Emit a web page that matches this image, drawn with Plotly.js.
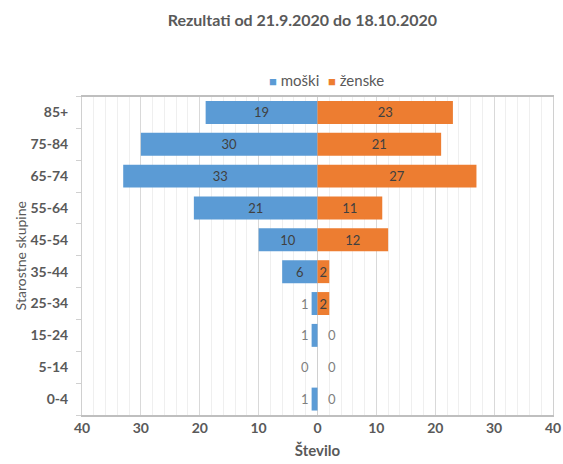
<!DOCTYPE html>
<html>
<head>
<meta charset="utf-8">
<script src="https://cdn.plot.ly/plotly-3.0.1.min.js"></script>
<style>
  html, body { margin: 0; padding: 0; background: #ffffff; }
  #chart { width: 563px; height: 464px; }
</style>
</head>
<body>
<div id="chart"></div>
<script>
// Age groups, bottom to top
const ageGroups = ['0-4', '5-14', '15-24', '25-34', '35-44', '45-54', '55-64', '65-74', '75-84', '85+'];
// Counts per age group
const men = [1, 0, 1, 1, 6, 10, 21, 33, 30, 19];
const women = [0, 0, 0, 2, 2, 12, 11, 27, 21, 23];
// Axis tick values (shown as absolute numbers)
const xTicks = [-40, -30, -20, -10, 0, 10, 20, 30, 40];

const FONT = 'Lato, "Open Sans", sans-serif';
const GREY = '#595959';
const BLUE = '#5b9bd5';
const ORANGE = '#ed7d31';

// Values of at least 2 get their label inside the bar; smaller ones sit beside it
const fitsInside = v => v >= 2;

function barTrace(name, vals, sign, color) {
  return {
    type: 'bar',
    orientation: 'h',
    name: name,
    y: ageGroups,
    x: vals.map(v => sign * v),
    text: vals.map(v => (fitsInside(v) ? String(v) : '')),
    textposition: vals.map(v => (fitsInside(v) ? 'inside' : 'none')),
    insidetextanchor: 'middle',
    constraintext: 'none',
    textfont: { family: FONT, size: 13, color: '#404040' },
    marker: { color: color },
    showlegend: false,
    hoverinfo: 'skip'
  };
}

// Legend entries: coloured square in the label, no symbol of their own
function legendTrace(name, color, legendId) {
  return {
    type: 'scatter',
    mode: 'markers',
    x: [null],
    y: [null],
    name: '<span style="color:' + color + ';font-size:13px">■</span> ' + name,
    marker: { size: 0, color: 'rgba(0,0,0,0)' },
    showlegend: true,
    legend: legendId,
    hoverinfo: 'skip'
  };
}

// Labels of small bars, placed just outside the bar end
const outsideLabels = [];
men.forEach((v, i) => {
  if (!fitsInside(v)) {
    outsideLabels.push({
      x: -v, y: ageGroups[i], xref: 'x', yref: 'y',
      text: String(v), showarrow: false,
      xanchor: 'right', xshift: v === 0 ? -7 : -1,
      font: { family: FONT, size: 13, color: '#7f7f7f' }
    });
  }
});
women.forEach((v, i) => {
  if (!fitsInside(v)) {
    outsideLabels.push({
      x: v, y: ageGroups[i], xref: 'x', yref: 'y',
      text: String(v), showarrow: false,
      xanchor: 'left', xshift: v === 0 ? 8 : 1,
      font: { family: FONT, size: 13, color: '#7f7f7f' }
    });
  }
});

function legendBox(leftPx) {
  return {
    orientation: 'h',
    xref: 'container', x: leftPx / 563, xanchor: 'left',
    yref: 'container', y: 1 - 80 / 464, yanchor: 'middle',
    bgcolor: 'rgba(0,0,0,0)',
    font: { family: FONT, size: 15, color: GREY },
    itemwidth: 30
  };
}

const layout = {
  width: 563,
  height: 464,
  margin: { l: 82, r: 10, t: 93, b: 49 },
  paper_bgcolor: '#ffffff',
  plot_bgcolor: '#ffffff',
  font: { family: FONT, color: GREY },
  barmode: 'overlay',
  bargap: 0.28,
  title: {
    text: '<b>Rezultati od 21.9.2020 do 18.10.2020</b>',
    font: { family: FONT, size: 16, color: GREY },
    xref: 'container', x: 0.537, xanchor: 'center',
    yref: 'container', y: 0.955, yanchor: 'middle'
  },
  showlegend: true,
  legend: legendBox(229),
  legend2: legendBox(288),
  annotations: outsideLabels,
  xaxis: {
    range: [-40, 40],
    tickvals: xTicks,
    ticktext: xTicks.map(v => '<b>' + Math.abs(v) + '</b>'),
    tickfont: { family: FONT, size: 14, color: GREY },
    ticks: '',
    showgrid: true,
    gridcolor: '#d9d9d9',
    gridwidth: 1,
    minor: { dtick: 2, tick0: 0, showgrid: true, gridcolor: '#efefef', gridwidth: 1 },
    zeroline: true,
    zerolinecolor: '#d0d0d0',
    zerolinewidth: 1,
    showline: true,
    linecolor: '#bfbfbf',
    linewidth: 1.5,
    mirror: true,
    fixedrange: true,
    title: {
      text: '<b>Število</b>',
      font: { family: FONT, size: 15, color: GREY },
      standoff: 10
    }
  },
  yaxis: {
    type: 'category',
    categoryorder: 'array',
    categoryarray: ageGroups,
    tickvals: ageGroups,
    ticktext: ageGroups.map(a => '<b>' + a + '</b>'),
    tickfont: { family: FONT, size: 14, color: GREY },
    ticklabelstandoff: 10,
    showgrid: false,
    showline: true,
    linecolor: '#d0d0d0',
    linewidth: 1,
    mirror: true,
    ticks: 'outside',
    tickson: 'boundaries',
    ticklen: 5,
    tickcolor: '#d0d0d0',
    fixedrange: true,
    title: {
      text: 'Starostne skupine',
      font: { family: FONT, size: 14, color: GREY },
      standoff: 0
    }
  }
};

const data = [
  barTrace('moški', men, -1, BLUE),
  barTrace('ženske', women, 1, ORANGE),
  legendTrace('moški', BLUE, 'legend'),
  legendTrace('ženske', ORANGE, 'legend2')
];

Plotly.newPlot('chart', data, layout, { displayModeBar: false, staticPlot: true });
</script>
</body>
</html>
